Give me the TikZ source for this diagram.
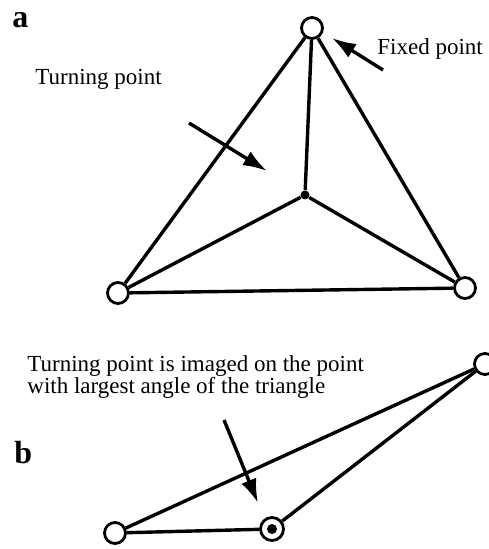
\documentclass[tikz,border=0pt]{standalone}
\usepackage{fontspec}
\setmainfont{Liberation Serif}
\usetikzlibrary{arrows.meta}

\begin{document}
\begin{tikzpicture}[x=0.5pt,y=-0.5pt,>={Latex[length=12pt,width=8pt]},
  font=\fontsize{11.5}{11}\selectfont,
  joint/.style={draw,circle,line width=1.4pt,fill=white,minimum size=10.5pt,inner sep=0pt},
  hub/.style={fill,circle,minimum size=4.5pt,inner sep=0pt},
  bar/.style={line width=1.7pt},
  pointer/.style={->,line width=1.7pt},
  note/.style={inner sep=0pt,anchor=base west},
  panel/.style={inner sep=0pt,anchor=base west,font=\fontsize{16}{16}\selectfont\bfseries}]
  \useasboundingbox (0,0) rectangle (488,549);

  % a: three fixed points and the turning point
  \node[panel] (la) at (12,28) {a};
  \node[joint] (top) at (312,28) {};
  \node[joint] (left) at (118,293) {};
  \node[joint] (right) at (465,288) {};
  \node[hub] (turn) at (305,195) {};
  \draw[bar] (top) -- (left);
  \draw[bar] (top) -- (right);
  \draw[bar] (left) -- (right);
  \draw[bar] (top) -- (turn);
  \draw[bar] (turn) -- (left);
  \draw[bar] (turn) -- (right);

  \node[note] (tlab) at (35,85) {Turning point};
  \node[note] (flab) at (377,55) {Fixed point};
  \coordinate (tfrom) at (189,123);
  \coordinate (tto) at (267,171);
  \coordinate (ffrom) at (383,70);
  \coordinate (fto) at (332,38);
  \draw[pointer] (tfrom) -- (tto);
  \draw[pointer] (ffrom) -- (fto);

  % b: turning point on the largest angle
  \node[panel] (lb) at (14,463) {b};
  \node[note,anchor=north west,align=left] (blab) at (27,355)
    {Turning point is imaged on the point\\with largest angle of the triangle};
  \node[joint] (bleft) at (115,533) {};
  \node[joint,minimum size=11.5pt] (bmid) at (272,529) {};
  \node[hub,minimum size=5pt] (bdot) at (bmid) {};
  \node[joint] (bright) at (485,364) {};
  \draw[bar] (bleft) -- (bright);
  \draw[bar] (bleft) -- (bmid);
  \draw[bar] (bmid) -- (bright);
  \coordinate (bfrom) at (224,420);
  \coordinate (bto) at (258,503);
  \draw[pointer] (bfrom) -- (bto);
\end{tikzpicture}
\end{document}
